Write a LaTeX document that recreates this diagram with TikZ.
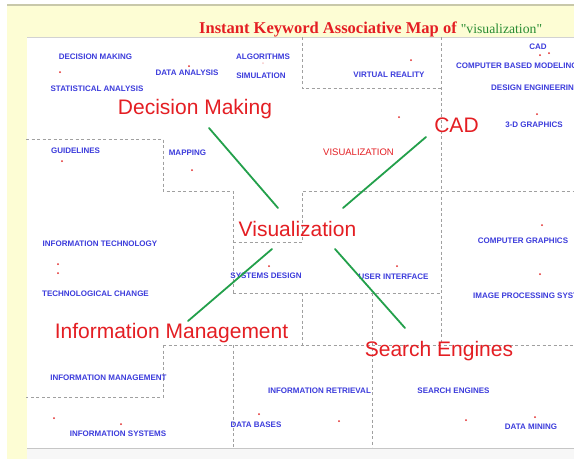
\documentclass[tikz,border=0pt]{standalone}
\usepackage{fontspec}
\setmainfont{Liberation Sans}
\newfontfamily\serifbold{Liberation Serif}[BoldFont=* Bold]
\usetikzlibrary{positioning}
\definecolor{kwblue}{RGB}{60,60,220}
\definecolor{mapred}{RGB}{228,30,35}
\definecolor{dotred}{RGB}{225,40,40}
\definecolor{linkgreen}{RGB}{35,160,75}
\definecolor{titlegreen}{RGB}{40,140,50}
\definecolor{dashgray}{RGB}{160,160,160}
\definecolor{pageyellow}{RGB}{253,253,212}
\definecolor{rulegray}{RGB}{200,200,170}

\begin{document}
\begin{tikzpicture}[x=1pt, y=-1pt,
  kw/.style={text=kwblue, font=\fontsize{8}{9}\selectfont\bfseries, inner sep=0pt},
  kwred/.style={text=mapred, font=\fontsize{9.5}{11}\selectfont, inner sep=0pt},
  dot/.style={circle, fill=dotred, inner sep=0pt, minimum size=2pt},
  topic/.style={text=mapred, font=\fontsize{21}{24}\selectfont, inner sep=0pt, anchor=base},
  region/.style={dashgray, line width=0.9pt, dash pattern=on 3pt off 2.5pt},
  link/.style={linkgreen, line width=1.8pt, line cap=round}]
\useasboundingbox (0,0) rectangle (574,459);
\clip (0,0) rectangle (574,459);

% page and panel
\fill [white] (0,0) rectangle (574,459);
\fill [pageyellow] (7,5) rectangle (574,459);
\draw [rulegray, line width=1.5pt] (7,5) -- (574,5);
\fill [white] (27,37) rectangle (574,448);
\fill [gray!6] (27,448) rectangle (574,459);
\draw [gray!35] (27,37) -- (574,37);
\draw [gray!45, line width=1pt] (27,448) -- (574,448);

\node [anchor=base west, inner sep=0pt, text=mapred, font=\serifbold\fontsize{16.5}{18}\selectfont\bfseries] (title) at (199,33)
  {Instant Keyword Associative Map of {\color{titlegreen}\mdseries\fontsize{13.7}{15}\selectfont "visualization"}};

% region borders
\draw [region] (302,37) -- (302,88) -- (441,88);
\draw [region] (441,37) -- (441,345);
\draw [region] (26,139) -- (163,139) -- (163,191) -- (233,191) -- (233,293);
\draw [region] (233,242) -- (302,242) -- (302,191) -- (574,191);
\draw [region] (233,293) -- (441,293);
\draw [region] (302,293) -- (302,345);
\draw [region] (372,293) -- (372,447);
\draw [region] (163,345) -- (574,345);
\draw [region] (163,345) -- (163,397) -- (26,397);
\draw [region] (233,345) -- (233,447);

% keywords
\node [kw] (decmaking) at (95.5,57) {DECISION MAKING};
\node [kw] (statanalysis) at (97,89) {STATISTICAL ANALYSIS};
\node [kw] (dataanalysis) at (187,73) {DATA ANALYSIS};
\node [kw] (algorithms) at (263,57) {ALGORITHMS};
\node [kw] (simulation) at (261,76) {SIMULATION};
\node [kw] (virtreality) at (389,75) {VIRTUAL REALITY};
\node [kw] (cadkw) at (538,47) {CAD};
\node [kw, anchor=west] (compmodel) at (456,66) {COMPUTER BASED MODELING};
\node [kw, anchor=west] (designeng) at (491,88) {DESIGN ENGINEERING};
\node [kw] (graphics3d) at (534,125) {3-D GRAPHICS};
\node [kwred] (visukw) at (358.5,152) {VISUALIZATION};
\node [kw] (guidelines) at (75.5,151) {GUIDELINES};
\node [kw] (mapping) at (187.5,153) {MAPPING};
\node [kw] (infotech) at (100,244) {INFORMATION TECHNOLOGY};
\node [kw] (techchange) at (95.5,294) {TECHNOLOGICAL CHANGE};
\node [kw] (sysdesign) at (266,276) {SYSTEMS DESIGN};
\node [kw] (userif) at (393.5,277) {USER INTERFACE};
\node [kw] (compgraphics) at (523,241) {COMPUTER GRAPHICS};
\node [kw, anchor=west] (imageproc) at (473,296) {IMAGE PROCESSING SYSTEMS};
\node [kw] (infomgmt) at (108.5,378) {INFORMATION MANAGEMENT};
\node [kw] (infosys) at (118,434) {INFORMATION SYSTEMS};
\node [kw] (databases) at (256,425) {DATA BASES};
\node [kw] (inforetr) at (319.5,391) {INFORMATION RETRIEVAL};
\node [kw] (searcheng) at (453.5,391) {SEARCH ENGINES};
\node [kw] (datamining) at (531,427) {DATA MINING};

% dots
\node [dot] (d1) at (60,72) {};
\node [dot] (d2) at (189,66) {};
\node [dot, fill=dotred!25] (d3) at (263,63) {};
\node [dot] (d4) at (411,60) {};
\node [dot] (d5) at (540,55) {};
\node [dot] (d6) at (549,53) {};
\node [dot] (d7) at (399,117) {};
\node [dot] (d8) at (537,114) {};
\node [dot] (d9) at (62,161) {};
\node [dot] (d10) at (192,170) {};
\node [dot] (d11) at (58,264) {};
\node [dot] (d12) at (58,273) {};
\node [dot] (d13) at (269,266) {};
\node [dot] (d14) at (397,266) {};
\node [dot] (d15) at (542,225) {};
\node [dot] (d16) at (540,274) {};
\node [dot] (d17) at (54,418) {};
\node [dot] (d18) at (121,424) {};
\node [dot] (d19) at (259,414) {};
\node [dot] (d20) at (339,421) {};
\node [dot] (d21) at (466,420) {};
\node [dot] (d22) at (535,417) {};

% topics
\node [topic] (vis) at (297.5,236) {Visualization};
\node [topic] (dm) at (195,114) {Decision Making};
\node [topic] (cad) at (456.5,132.5) {CAD};
\node [topic] (im) at (171.5,338) {Information Management};
\node [topic] (se) at (439,356) {Search Engines};

% links
\coordinate (dm-end) at (209,128);
\coordinate (vis-nw) at (278,208);
\coordinate (cad-end) at (426,137);
\coordinate (vis-ne) at (343,208);
\coordinate (im-end) at (188,321);
\coordinate (vis-sw) at (272,249);
\coordinate (se-end) at (405,328);
\coordinate (vis-se) at (335,249);
\draw [link] (dm-end) -- (vis-nw);
\draw [link] (cad-end) -- (vis-ne);
\draw [link] (vis-sw) -- (im-end);
\draw [link] (vis-se) -- (se-end);
\end{tikzpicture}
\end{document}
